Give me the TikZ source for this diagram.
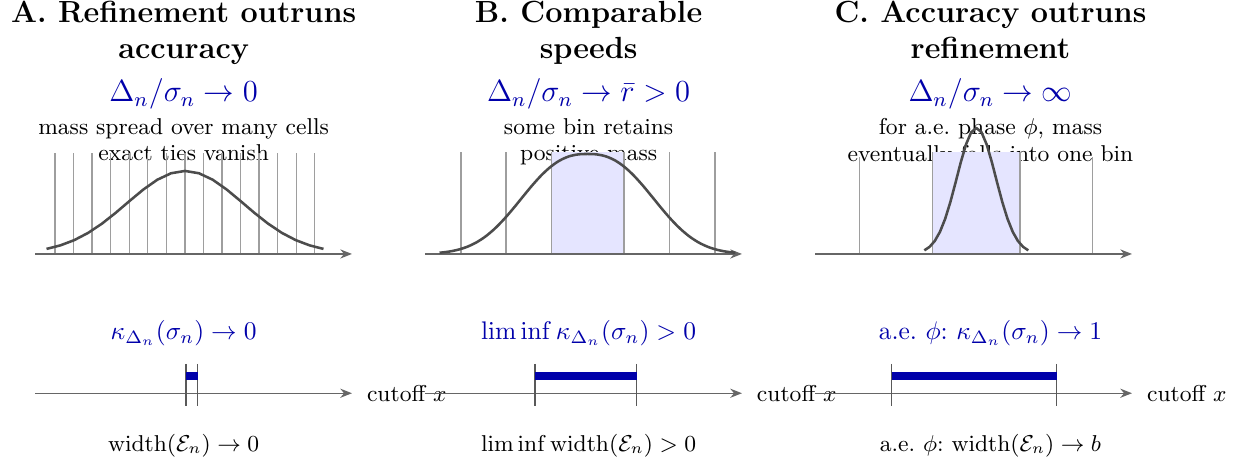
\documentclass[tikz,border=0pt]{standalone}
\usepackage{amsmath,amssymb}
\usepackage{tikz}
\usetikzlibrary{arrows.meta, positioning}
\definecolor{rateblue}{RGB}{0,0,170}
\tikzset{
  paneltitle/.style={font=\large\bfseries, align=center, anchor=north, inner sep=0pt},
  ratelbl/.style={font=\large, text=rateblue, anchor=base, inner sep=0pt},
  notelbl/.style={font=\fontsize{9}{10.5}\selectfont, align=center, anchor=north, inner sep=0pt},
  kappalbl/.style={text=rateblue, anchor=base, inner sep=1pt},
  widthlbl/.style={font=\small, anchor=base, inner sep=1pt},
  cutlbl/.style={font=\small, inner sep=1pt},
  axisarrow/.style={-{Stealth[length=4.6pt, width=3.6pt]}, black!60, line width=0.5pt},
  binline/.style={black!38, line width=0.5pt},
  binfill/.style={fill=blue!10},
  density/.style={black!70, line width=1pt, line join=round},
  tickline/.style={black!65, line width=0.5pt},
  setbar/.style={rateblue, line width=3.3pt},
}

\begin{document}
\begin{tikzpicture}
  \useasboundingbox (-0.483,-2.883) rectangle (16.676,3.503);

  % === Panel A: refinement outruns accuracy ===
  \node[paneltitle] (titleA) at (2.05,3.49) {A. Refinement outruns\\accuracy};
  \node[ratelbl] (rateA) at (2.05,2.101) {$\Delta_n/\sigma_n \to 0$};
  \node[notelbl] (noteA) at (2.05,1.881) {mass spread over many cells\\exact ties vanish};
  \foreach \k in {-7,...,7}
    \draw[binline] ({2.067+0.2559*\k},0) -- ++(0,1.393);
  \coordinate (axA0) at (0,0);
  \coordinate (axA1) at (4.372,0);
  \draw[axisarrow] (axA0) -- (axA1);
  \draw[density] plot[domain=-1.91:1.91, samples=21]
    ({2.069+\x},{1.145*exp(-(\x)^2/(2*0.807^2))});

  \node[kappalbl] (kappaA) at (2.05,-1.177) {$\kappa_{\Delta_n}(\sigma_n) \to 0$};
  \coordinate (cutA0) at (0,-1.921);
  \coordinate (cutA1) at (4.372,-1.921);
  \draw[axisarrow] (cutA0) -- (cutA1);
  \node[cutlbl, right=4.7pt of cutA1] (cutlblA) {cutoff $x$};
  \draw[tickline] (2.083,-1.517) -- (2.083,-2.096);
  \draw[tickline] (2.244,-1.517) -- (2.244,-2.096);
  \draw[setbar] (2.083,-1.680) -- (2.244,-1.680);
  \node[widthlbl] (widthA) at (2.05,-2.724) {$\operatorname{width}(\mathcal{E}_n) \to 0$};

  % === Panel B: comparable speeds ===
  \begin{scope}[xshift=5.379cm]
    \node[paneltitle] (titleB) at (2.257,3.49) {B. Comparable\\speeds};
    \node[ratelbl] (rateB) at (2.257,2.101) {$\Delta_n/\sigma_n \to \bar{r} > 0$};
    \node[notelbl] (noteB) at (2.257,1.881) {some bin retains\\positive mass};
    \fill[binfill] (1.748,0) rectangle (2.745,1.411);
    \foreach \bx in {0.497,1.117,1.748,2.745,3.370,4.000}
      \draw[binline] (\bx,0) -- ++(0,1.411);
    \coordinate (axB0) at (0,0);
    \coordinate (axB1) at (4.372,0);
    \draw[axisarrow] (axB0) -- (axB1);
    \draw[density] plot[smooth, domain=-2.04:2.04, samples=33]
      ({2.241+\x},{1.379*exp(-(abs(\x)/1.127+0.001)^2.5)});

    \node[kappalbl] (kappaB) at (2.257,-1.177) {$\liminf \kappa_{\Delta_n}(\sigma_n) > 0$};
    \coordinate (cutB0) at (0,-1.921);
    \coordinate (cutB1) at (4.372,-1.921);
    \draw[axisarrow] (cutB0) -- (cutB1);
    \node[cutlbl, right=4.7pt of cutB1] (cutlblB) {cutoff $x$};
    \draw[tickline] (1.517,-1.517) -- (1.517,-2.096);
    \draw[tickline] (2.920,-1.517) -- (2.920,-2.096);
    \draw[setbar] (1.517,-1.680) -- (2.920,-1.680);
    \node[widthlbl] (widthB) at (2.257,-2.724) {$\liminf \operatorname{width}(\mathcal{E}_n) > 0$};
  \end{scope}

  % === Panel C: accuracy outruns refinement ===
  \begin{scope}[xshift=10.759cm]
    \node[paneltitle] (titleC) at (2.42,3.49) {C. Accuracy outruns\\refinement};
    \node[ratelbl] (rateC) at (2.42,2.101) {$\Delta_n/\sigma_n \to \infty$};
    \node[notelbl] (noteC) at (2.42,1.881) {for a.e.\ phase $\phi$, mass\\eventually falls into one bin};
    \fill[binfill] (1.618,0) rectangle (2.828,1.411);
    \draw[binline] (0.611,0) -- ++(0,1.338);
    \draw[binline] (1.618,0) -- ++(0,1.411);
    \draw[binline] (2.828,0) -- ++(0,1.411);
    \draw[binline] (3.830,0) -- ++(0,1.338);
    \coordinate (axC0) at (0,0);
    \coordinate (axC1) at (4.372,0);
    \draw[axisarrow] (axC0) -- (axC1);
    \draw[density] plot[domain=-0.717:0.717, samples=21]
      ({2.225+\x},{1.738*exp(-(\x)^2/(2*0.269^2))});

    \node[kappalbl] (kappaC) at (2.42,-1.177) {a.e.\ $\phi$:~$\kappa_{\Delta_n}(\sigma_n) \to 1$};
    \coordinate (cutC0) at (0,-1.921);
    \coordinate (cutC1) at (4.372,-1.921);
    \draw[axisarrow] (cutC0) -- (cutC1);
    \node[cutlbl, right=4.7pt of cutC1] (cutlblC) {cutoff $x$};
    \draw[tickline] (1.058,-1.517) -- (1.058,-2.096);
    \draw[tickline] (3.334,-1.517) -- (3.334,-2.096);
    \draw[setbar] (1.058,-1.680) -- (3.334,-1.680);
    \node[widthlbl] (widthC) at (2.42,-2.724) {a.e.\ $\phi$:~$\operatorname{width}(\mathcal{E}_n) \to b$};
  \end{scope}
\end{tikzpicture}
\end{document}
